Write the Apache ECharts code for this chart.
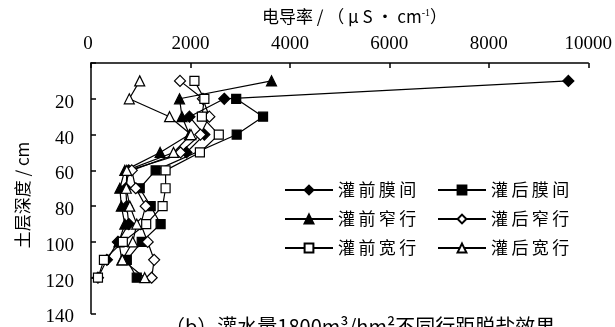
<!DOCTYPE html>
<html>
<head>
<meta charset="utf-8">
<script src="https://cdn.jsdelivr.net/npm/echarts@6/dist/echarts.min.js"></script>
<style>
  html, body { margin: 0; padding: 0; background: #fff; }
  #chart { width: 615px; height: 327px; }
</style>
</head>
<body>
<div id="chart"></div>
<script>
// Soil depth (cm) of each sampling layer
const depths = [10, 20, 30, 40, 50, 60, 70, 80, 90, 100, 110, 120];

// Electrical conductivity (μS/cm) at each depth; null = not sampled
const preMembrane  = [9600, 2680, 1980, 2280, 1920, 760, 700, 720, 760, 540, 320, 140];
const postMembrane = [null, 2920, 3460, 2930, null, 1300, 980, 1200, 1400, 1020, 720, 920];
const preNarrow    = [3630, 1780, 1830, 1980, 1390, 680, 580, 610, 680, 560, 620, null];
const postNarrow   = [1790, 2250, 2380, 2200, 1800, 820, 900, 1100, 1000, 1140, 1270, 1220];
const preWide      = [2080, 2280, 2230, 2570, 2190, 1500, 1500, 1440, 1110, 640, 260, 140];
const postWide     = [980, 770, 1580, 2010, 1660, 720, 710, 780, 920, 840, 630, 1080];

const seriesNames = ['灌前膜间', '灌后膜间', '灌前窄行', '灌后窄行', '灌前宽行', '灌后宽行'];

const CJK = 'Noto Sans CJK SC, sans-serif';
const SERIF = 'Liberation Serif, Times New Roman, serif';

function pairs(vals) {
  return depths.map((d, i) => [vals[i] == null ? '-' : vals[i], d]);
}

function makeSeries(name, vals, symbol, size, filled) {
  return {
    name: name,
    type: 'line',
    data: pairs(vals),
    connectNulls: true,
    symbol: symbol,
    symbolSize: size,
    showAllSymbol: true,
    lineStyle: { color: '#000', width: 1.2 },
    itemStyle: { color: filled ? '#000' : '#fff', borderColor: '#000', borderWidth: 1.2 },
    emphasis: { disabled: true },
    animation: false
  };
}

const chart = echarts.init(document.getElementById('chart'), null, { renderer: 'canvas' });

const legendCommon = {
  orient: 'vertical',
  itemWidth: 48,
  itemHeight: 11,
  itemGap: 11,
  textStyle: { fontFamily: CJK, fontSize: 17, color: '#000', lineHeight: 18 },
  formatter: n => n.split('').join('\u2009'),
  selectedMode: false,
  inactiveColor: '#000'
};

chart.setOption({
  backgroundColor: '#fff',
  animation: false,
  grid: { left: 91, top: 63, width: 500, height: 251 },
  xAxis: {
    type: 'value',
    position: 'top',
    min: 0, max: 10000, interval: 2000,
    axisLine: { onZero: false, lineStyle: { color: '#000', width: 1.5 } },
    axisTick: { inside: true, length: 5, lineStyle: { color: '#000', width: 1.5 } },
    axisLabel: {
      margin: 9,
      color: '#000',
      fontFamily: SERIF,
      fontSize: 19,
      formatter: v => (v === 0 ? '{z|0}' : String(v)),
      rich: { z: { fontFamily: SERIF, fontSize: 19, color: '#000', padding: [0, 6, 0, 0] } }
    },
    splitLine: { show: false }
  },
  yAxis: {
    type: 'value',
    inverse: true,
    min: 0, max: 140, interval: 20,
    axisLine: { onZero: false, lineStyle: { color: '#000', width: 1.5 } },
    axisTick: { inside: true, length: 5, lineStyle: { color: '#000', width: 1.5 } },
    axisLabel: {
      margin: 17,
      color: '#000',
      fontFamily: SERIF,
      fontSize: 19,
      formatter: v => (v === 0 ? '' : '{n|' + v + '}'),
      rich: { n: { fontFamily: SERIF, fontSize: 19, color: '#000', padding: [8, 0, 0, 0] } }
    },
    splitLine: { show: false }
  },
  legend: [
    Object.assign({ left: 279, top: 176, data: ['灌前膜间', '灌前窄行', '灌前宽行'] }, legendCommon),
    Object.assign({ left: 432, top: 176, data: ['灌后膜间', '灌后窄行', '灌后宽行'] }, legendCommon)
  ],
  series: [
    makeSeries(seriesNames[0], preMembrane, 'diamond', 11, true),
    makeSeries(seriesNames[1], postMembrane, 'rect', 9, true),
    makeSeries(seriesNames[2], preNarrow, 'triangle', 10, true),
    makeSeries(seriesNames[3], postNarrow, 'diamond', 11, false),
    makeSeries(seriesNames[4], preWide, 'rect', 9, false),
    makeSeries(seriesNames[5], postWide, 'triangle', 10, false)
  ],
  graphic: [
    {
      type: 'text',
      x: 262, y: 17,
      style: {
        text: '电导率 / （ μ S • cm{sup|-1}）',
        fontFamily: CJK,
        fontSize: 17,
        fill: '#000',
        textVerticalAlign: 'middle',
        rich: { sup: { fontSize: 10, verticalAlign: 'top', padding: [0, 0, 8, 0], fontFamily: SERIF } }
      }
    },
    {
      type: 'text',
      x: 23, y: 195,
      rotation: Math.PI / 2,
      style: {
        text: '土层深度 / cm',
        fontFamily: CJK,
        fontSize: 17,
        fill: '#000',
        textAlign: 'center',
        textVerticalAlign: 'middle'
      }
    },
    {
      type: 'text',
      x: 165, y: 316,
      style: { text: '（b）灌水量1800m³/hm²不同行距脱盐效果', fontFamily: CJK, fontSize: 20, fill: '#000' }
    }
  ]
});
</script>
</body>
</html>
